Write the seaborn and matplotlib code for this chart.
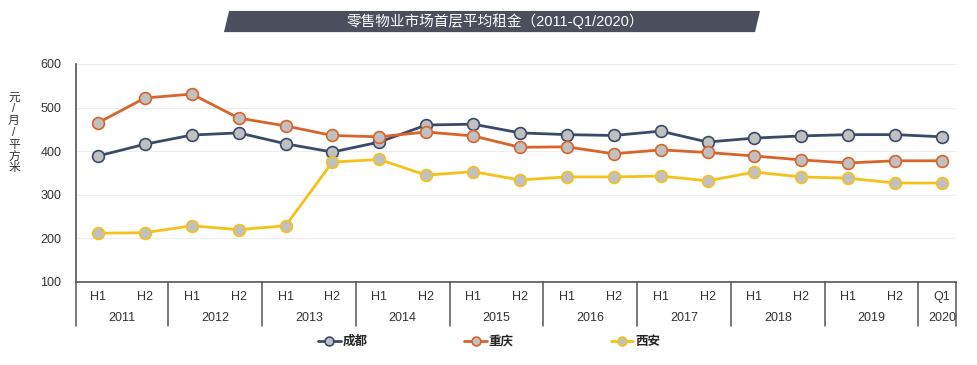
import matplotlib.pyplot as plt
import matplotlib.transforms as mtransforms
from matplotlib.patches import Polygon
import numpy as np
import pandas as pd
import seaborn as sns

years = ["2011", "2012", "2013", "2014", "2015", "2016", "2017", "2018", "2019", "2020"]
periods = ["H1", "H2"] * 9 + ["Q1"]
period_year = [y for y in years[:-1] for _ in range(2)] + ["2020"]

chengdu = [389, 416, 437, 442, 417, 398, 421, 460, 462, 442,
           438, 436, 446, 421, 430, 435, 438, 438, 433]
chongqing = [465, 522, 531, 476, 458, 436, 433, 444, 435, 409,
             410, 394, 403, 397, 389, 380, 373, 378, 378]
xian = [212, 213, 229, 220, 229, 375, 381, 345, 353, 334,
        341, 341, 343, 332, 352, 341, 338, 327, 327]

series = {"成都": (chengdu, "#3b4a6b"), "重庆": (chongqing, "#d8642a"), "西安": (xian, "#f6c11b")}

sns.set_style("white")
plt.rcParams["font.family"] = ["Liberation Sans", "Noto Sans CJK SC", "DejaVu Sans"]

fig = plt.figure(figsize=(9.78, 3.65), dpi=100)
ax = fig.add_axes([0.0777, 0.2274, 0.8998, 0.5973])

idx = np.arange(len(periods))
for name, (vals, col) in series.items():
    df = pd.DataFrame({"x": idx, "y": vals})
    sns.lineplot(data=df, x="x", y="y", ax=ax, color=col, lw=2, marker="o",
                 markersize=8.5, markerfacecolor="#c0c0c0", markeredgecolor=col,
                 markeredgewidth=1.2, label=name, legend=False)

ax.set_ylim(100, 600)
ax.set_xlim(-0.47, len(periods) - 0.7)
ax.set_yticks([100, 200, 300, 400, 500, 600])
ax.yaxis.grid(True, color="#ededed", lw=0.8)
ax.tick_params(axis="y", labelsize=9, colors="#333333", length=0, pad=10.5)
ax.set_xticks(idx)
ax.set_xticklabels(periods)
ax.tick_params(axis="x", labelsize=9, colors="#333333", length=0, pad=6.5)
ax.set_xlabel("")
ax.set_ylabel("")
for s in ["top", "right"]:
    ax.spines[s].set_visible(False)
for s in ["left", "bottom"]:
    ax.spines[s].set_color("#555555")
    ax.spines[s].set_linewidth(1.2)

# year group labels and separators
trans = mtransforms.blended_transform_factory(ax.transData, ax.transAxes)
groups = pd.Series(idx).groupby(period_year)
edges = [-0.5]
for yr in years:
    pos = groups.get_group(yr).values
    ax.text(pos.mean(), -0.167, yr, transform=trans, ha="center", va="center",
            fontsize=9, color="#333333")
    edges.append(pos.max() + 0.5)
edges[0] = ax.get_xlim()[0]
edges[-1] = ax.get_xlim()[1]
for e in edges:
    ax.plot([e, e], [0, -0.203], transform=trans, color="#555555", lw=1.1,
            clip_on=False)

# vertical unit label
fig.text(0.0143, 0.636, "\n".join("元/月/平方米"), ha="center", va="center",
         fontsize=8.5, color="#333333", linespacing=0.98)

# title banner
fig.patches.append(Polygon([[0.2342, 0.970], [0.7771, 0.970], [0.7720, 0.912], [0.2290, 0.912]],
                           closed=True, transform=fig.transFigure, facecolor="#4b4f5d",
                           edgecolor="none"))
fig.text(0.506, 0.942, "零售物业市场首层平均租金（2011-Q1/2020）", ha="center", va="center",
         fontsize=10.5, color="white")

handles, labels = ax.get_legend_handles_labels()
fig.legend(handles, labels, loc="center", bbox_to_anchor=(0.5, 0.063), ncol=3,
           frameon=False, handlelength=1.8, handletextpad=0.15, columnspacing=7.75,
           markerscale=0.75, prop={"weight": "bold", "size": 9})

fig.savefig("out.png", dpi=100)
